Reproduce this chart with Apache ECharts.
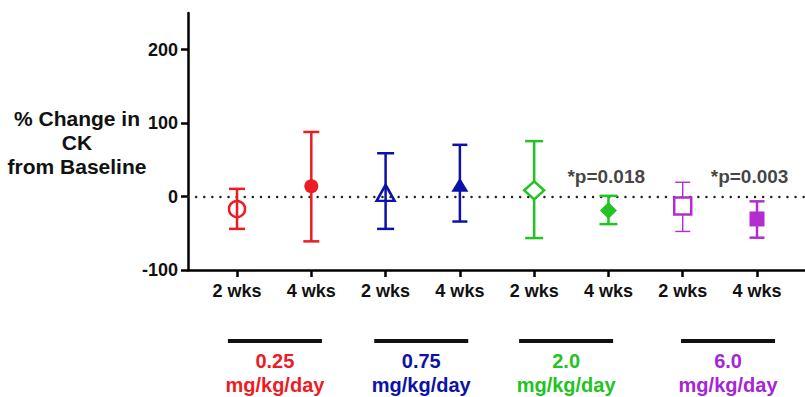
<!DOCTYPE html>
<html><head><meta charset="utf-8">
<script src="https://cdn.jsdelivr.net/npm/echarts@6/dist/echarts.min.js"></script>
<style>html,body{margin:0;padding:0;background:#fff}#c{width:805px;height:397px}</style>
</head><body><div id="c"></div>
<script>
// ---- data ----
const xPos = [1, 2, 3, 4, 5, 6, 7, 8];
const tickLabels = ['2 wks', '4 wks', '2 wks', '4 wks', '2 wks', '4 wks', '2 wks', '4 wks'];
const means = [-17, 14, 5, 16, 8.5, -19, -13, -30.5];
const upper = [10.5, 88, 59, 70.5, 75.5, 1, 19.5, -6.5];
const lower = [-44, -61, -44, -34, -56.5, -37.5, -47.5, -56];
const yTicks = [-100, 0, 100, 200];
const doseLabels = ['0.25', '0.75', '2.0', '6.0'];
const doseUnit = 'mg/kg/day';
const doseCenters = [1.51, 3.48, 5.43, 7.61];
const pTexts = ['*p=0.018', '*p=0.003'];
const pX = [5.97, 7.9];
const pY = [27, 27];
const yTitle = '% Change in\nCK\nfrom Baseline';

// ---- styles ----
const FONT = "'Liberation Sans', Arial, sans-serif";
const RED = '#ec1c24', BLUE = '#0c12a8', GREEN = '#22c322', PURP = '#b22ccf';
const colors = [RED, RED, BLUE, BLUE, GREEN, GREEN, PURP, PURP];
const symbols = ['circle', 'circle', 'triangle', 'triangle', 'diamond', 'diamond', 'rect', 'rect'];
const filled = [false, true, false, true, false, true, false, true];
const innerFill = ['rgba(0,0,0,0)', null, 'rgba(0,0,0,0)', null, '#fff', null, '#fff', null];
const sizes = [[16, 16], [14, 14], [18, 16], [17, 14], [20, 18], [17, 17], [17, 17], [15, 15]];
const lineW = [2.5, 2.5, 2.5, 2.5, 2.5, 2.5, 1.4, 2.5];
const capHalf = [8, 8, 8.5, 7.5, 9, 9, 7.5, 7.5];
const doseColors = [RED, BLUE, GREEN, '#a526d6'];

const chart = echarts.init(document.getElementById('c'), null, { renderer: 'svg' });

const option = {
  animation: false,
  backgroundColor: '#fff',
  grid: { left: 188, right: 0, top: 13, bottom: 127, containLabel: false },
  xAxis: {
    type: 'value', min: 0.34, max: 8.646,
    splitLine: { show: false },
    axisLine: { show: true, onZero: false, lineStyle: { color: '#000', width: 2.5 } },
    axisTick: { show: true, customValues: xPos, length: 7, lineStyle: { color: '#000', width: 2.5 } },
    axisLabel: {
      customValues: xPos, margin: 12,
      formatter: v => tickLabels[Math.round(v) - 1],
      color: '#111', fontSize: 18, fontWeight: 'bold', fontFamily: FONT
    }
  },
  yAxis: {
    type: 'value', min: -100, max: 250, interval: 100,
    splitLine: { show: false },
    axisLine: { show: true, lineStyle: { color: '#000', width: 2.5 } },
    axisTick: { show: true, customValues: yTicks, length: 7, lineStyle: { color: '#000', width: 2.5 } },
    axisLabel: {
      customValues: yTicks, margin: 10,
      color: '#111', fontSize: 18, fontWeight: 'bold', fontFamily: FONT
    }
  },
  graphic: [{
    type: 'text', x: 77, y: 142, silent: true,
    style: {
      text: yTitle, fill: '#111', font: 'bold 21px ' + FONT,
      textAlign: 'center', textVerticalAlign: 'middle', lineHeight: 24
    }
  }],
  series: [
    {
      type: 'custom', z: 2,
      data: xPos.map((x, i) => [x, lower[i], upper[i]]),
      encode: { x: 0, y: [1, 2] },
      renderItem: (params, api) => {
        const i = params.dataIndex;
        const x = api.value(0);
        const pHi = api.coord([x, api.value(2)]);
        const pLo = api.coord([x, api.value(1)]);
        const st = { stroke: colors[i], lineWidth: lineW[i] };
        const h = capHalf[i];
        return {
          type: 'group', children: [
            { type: 'line', shape: { x1: pHi[0], y1: pHi[1], x2: pLo[0], y2: pLo[1] }, style: st },
            { type: 'line', shape: { x1: pHi[0] - h, y1: pHi[1], x2: pHi[0] + h, y2: pHi[1] }, style: st },
            { type: 'line', shape: { x1: pLo[0] - h, y1: pLo[1], x2: pLo[0] + h, y2: pLo[1] }, style: st }
          ]
        };
      }
    },
    {
      type: 'scatter', z: 3,
      data: xPos.map((x, i) => ({
        value: [x, means[i]],
        symbol: symbols[i],
        symbolSize: sizes[i],
        itemStyle: filled[i]
          ? { color: colors[i], borderWidth: 0, opacity: 1 }
          : { color: innerFill[i], borderColor: colors[i], borderWidth: 2.5, opacity: 1 }
      })),
      markLine: {
        silent: true, symbol: ['none', 'none'], z: 1,
        label: { show: false },
        lineStyle: { color: '#222', width: 2.4, type: [0.1, 8], cap: 'round' },
        data: [{ yAxis: 0 }]
      }
    },
    {
      type: 'scatter', z: 4, symbolSize: 0,
      data: pX.map((x, i) => [x, pY[i]]),
      label: {
        show: true, position: 'inside',
        formatter: p => pTexts[p.dataIndex],
        color: '#111', fontSize: 19, fontWeight: 'bold', fontFamily: FONT
      }
    },
    {
      type: 'custom', clip: false, z: 5,
      data: doseCenters.map(c => [c, -100]),
      encode: { x: 0, y: 1 },
      renderItem: (params, api) => {
        const i = params.dataIndex;
        const p = api.coord([api.value(0), api.value(1)]);
        return {
          type: 'group', children: [
            { type: 'line', shape: { x1: p[0] - 47, y1: p[1] + 71, x2: p[0] + 47, y2: p[1] + 71 },
              style: { stroke: '#111', lineWidth: 4 } },
            { type: 'text', x: p[0], y: p[1] + 91,
              style: { text: doseLabels[i], fill: doseColors[i], font: 'bold 20px ' + FONT,
                       textAlign: 'center', textVerticalAlign: 'middle' } },
            { type: 'text', x: p[0], y: p[1] + 115,
              style: { text: doseUnit, fill: doseColors[i], font: 'bold 20px ' + FONT,
                       textAlign: 'center', textVerticalAlign: 'middle' } }
          ]
        };
      }
    }
  ]
};
chart.setOption(option);
</script>
</body></html>
